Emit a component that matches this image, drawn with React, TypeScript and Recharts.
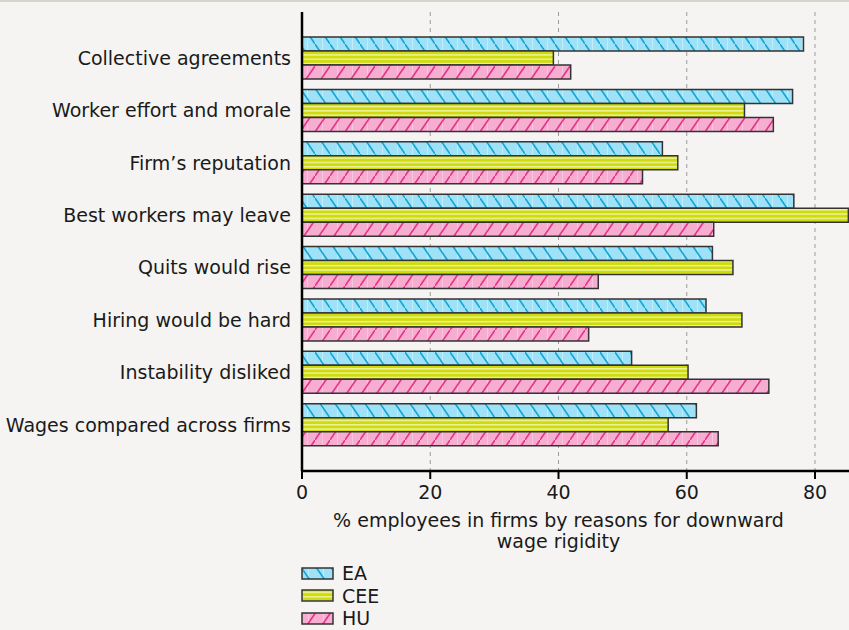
import React from 'react';
import { BarChart, Bar, XAxis, YAxis, CartesianGrid } from 'recharts';

const reasons = [
  'Collective agreements',
  'Worker effort and morale',
  'Firm\u2019s reputation',
  'Best workers may leave',
  'Quits would rise',
  'Hiring would be hard',
  'Instability disliked',
  'Wages compared across firms',
];
const eaValues = [78.2, 76.5, 56.2, 76.7, 64.0, 63.0, 51.4, 61.5];
const ceeValues = [39.2, 69.0, 58.6, 85.2, 67.2, 68.6, 60.2, 57.1];
const huValues = [41.9, 73.5, 53.1, 64.2, 46.2, 44.7, 72.8, 64.9];
const xTicks = [0, 20, 40, 60, 80];
const gridValues = [20, 40, 60, 80];
const X_MAX = 85.3;

const data = reasons.map((name, i) => ({
  name,
  EA: eaValues[i],
  CEE: ceeValues[i],
  HU: huValues[i],
}));

const FONT = '"DejaVu Sans", sans-serif';
const TEXT = '#1a1a1a';

const series = [
  { key: 'EA', fill: 'url(#pEA)' },
  { key: 'CEE', fill: 'url(#pCEE)' },
  { key: 'HU', fill: 'url(#pHU)' },
];

const Patterns = () => (
  <defs>
    <pattern id="pEA" patternUnits="userSpaceOnUse" width="15" height="22">
      <rect width="15" height="22" fill="#9fe1f6" />
      <line x1="7.5" y1="0" x2="7.5" y2="22" stroke="#c2ecf9" strokeWidth="1" />
      <line x1="-1.5" y1="-2.2" x2="16.5" y2="24.2" stroke="#12a6d8" strokeWidth="1.6" />
    </pattern>
    <pattern id="pCEE" patternUnits="userSpaceOnUse" width="10" height="4.3">
      <rect width="10" height="4.3" fill="#cfdb0b" />
      <rect y="2.6" width="10" height="1.5" fill="#edf39a" />
    </pattern>
    <pattern id="pHU" patternUnits="userSpaceOnUse" width="15" height="22">
      <rect width="15" height="22" fill="#f6add0" />
      <line x1="7.5" y1="0" x2="7.5" y2="22" stroke="#f9c6df" strokeWidth="1" />
      <line x1="-1.5" y1="24.2" x2="16.5" y2="-2.2" stroke="#e6338a" strokeWidth="1.6" />
    </pattern>
  </defs>
);

const AxisTitle = (props: any) => {
  const { viewBox } = props;
  const cx = viewBox.x + (viewBox.width * 40) / X_MAX;
  return (
    <text x={cx} y={viewBox.y + 56} textAnchor="middle" fill={TEXT} fontSize={19} fontFamily={FONT}>
      <tspan x={cx}>% employees in firms by reasons for downward</tspan>
      <tspan x={cx} dy={21}>wage rigidity</tspan>
    </text>
  );
};

const LegendSwatch = ({ fill }: { fill: string }) => (
  <svg width={33} height={13} style={{ display: 'block' }}>
    <rect x={1} y={1} width={31} height={11} fill={fill} stroke="#333" strokeWidth={1.5} />
  </svg>
);

export default function App() {
  return (
    <div style={{ position: 'relative', width: 849, height: 630, background: '#f5f4f2', fontFamily: FONT }}>
      <style>{'body{margin:0}'}</style>
      <div style={{ position: 'absolute', left: 0, top: 0, width: 849, height: 2, background: '#d8d3cd' }} />
      <BarChart
        width={849}
        height={630}
        data={data}
        layout="vertical"
        margin={{ top: 12, right: 0, left: 0, bottom: 79 }}
        barSize={14}
        barGap={0}
      >
        <Patterns />
        <CartesianGrid
          horizontal={false}
          verticalValues={gridValues}
          stroke="#9a9a9a"
          strokeDasharray="4 4"
        />
        <XAxis
          type="number"
          domain={[0, X_MAX]}
          ticks={xTicks}
          height={80}
          tickSize={8}
          tickMargin={7}
          axisLine={{ stroke: '#000', strokeWidth: 2.5 }}
          tickLine={{ stroke: '#000', strokeWidth: 2 }}
          tick={{ fill: TEXT, fontSize: 19, fontFamily: FONT }}
          label={{ content: AxisTitle }}
          allowDataOverflow
        />
        <YAxis
          type="category"
          dataKey="name"
          width={302}
          padding={{ top: 20, bottom: 20 }}
          axisLine={{ stroke: '#000', strokeWidth: 2.5 }}
          tickLine={false}
          tickSize={8}
          tickMargin={3}
          tick={{ fill: TEXT, fontSize: 19, fontFamily: FONT }}
          interval={0}
        />
        {series.map((s) => (
          <Bar
            key={s.key}
            dataKey={s.key}
            fill={s.fill}
            stroke="#333"
            strokeWidth={1.5}
            isAnimationActive={false}
          />
        ))}
      </BarChart>
      <div style={{ position: 'absolute', left: 301, top: 562 }}>
        {series.map((s) => (
          <div key={s.key} style={{ display: 'flex', alignItems: 'center', height: 22.5, gap: 8 }}>
            <LegendSwatch fill={s.fill} />
            <span style={{ fontSize: 19, color: TEXT, lineHeight: '22px' }}>{s.key}</span>
          </div>
        ))}
      </div>
    </div>
  );
}
